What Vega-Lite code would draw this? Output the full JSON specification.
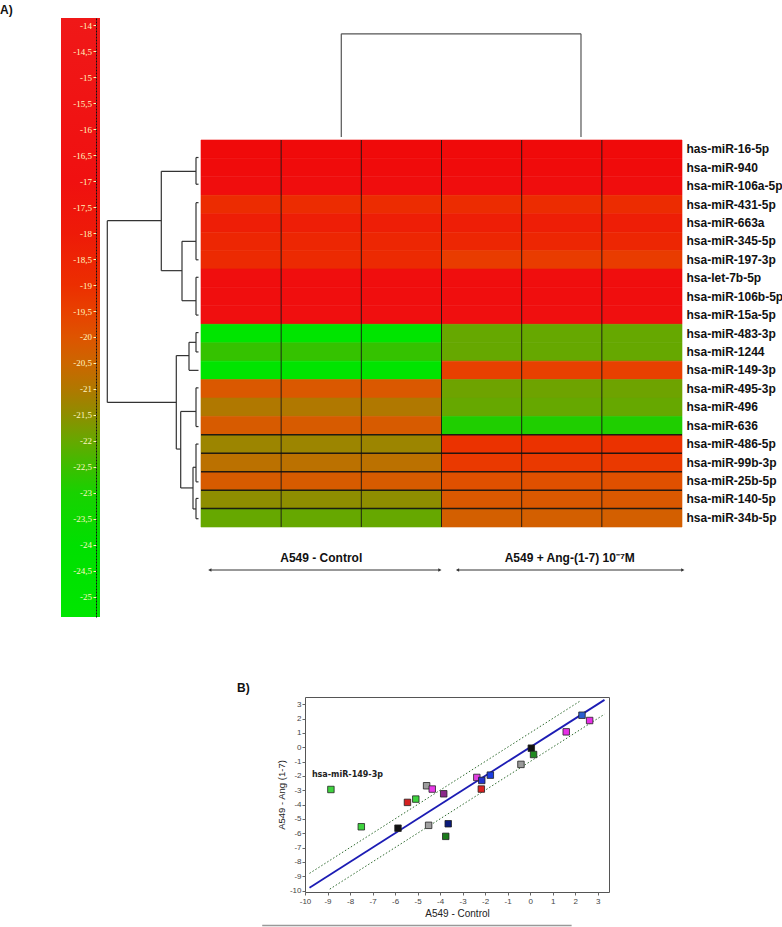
{
  "$schema": "https://vega.github.io/schema/vega-lite/v6.json",
  "background": "white",
  "padding": {"left": 0, "top": 3, "right": 0, "bottom": 0},
  "config": {
    "view": {"stroke": null},
    "locale": {"number": {"decimal": ",", "thousands": ".", "grouping": [3], "currency": ["", ""], "minus": "-"}}
  },
  "spacing": 64,
  "vconcat": [
    {
      "hconcat": [
        {
          "width": 39,
          "height": 599,
          "title": {"text": "A)", "anchor": "start", "frame": "group", "dx": -61, "offset": -7.5, "baseline": "alphabetic", "fontSize": 12, "fontWeight": "bold", "font": "Liberation Sans", "color": "#111"},
          "data": {"values": [{"lo": -25.385, "hi": -13.865}]},
          "mark": {
            "type": "rect",
            "color": {
              "gradient": "linear", "x1": 0, "y1": 0, "x2": 0, "y2": 1,
              "stops": [
                {"offset": 0, "color": "#f01818"},
                {"offset": 0.2721, "color": "#f01010"},
                {"offset": 0.3589, "color": "#ee1a08"},
                {"offset": 0.4457, "color": "#ec2e00"},
                {"offset": 0.4891, "color": "#e84000"},
                {"offset": 0.5326, "color": "#de5400"},
                {"offset": 0.576, "color": "#cc6600"},
                {"offset": 0.6194, "color": "#b07800"},
                {"offset": 0.6628, "color": "#8e8e00"},
                {"offset": 0.7062, "color": "#66a800"},
                {"offset": 0.7496, "color": "#3cbe00"},
                {"offset": 0.793, "color": "#18d200"},
                {"offset": 0.8798, "color": "#00e000"},
                {"offset": 1, "color": "#00e600"}
              ]
            }
          },
          "encoding": {
            "x": {"value": 0},
            "x2": {"value": "width"},
            "y": {
              "field": "lo", "type": "quantitative",
              "scale": {"domain": [-25.385, -13.865], "nice": false, "zero": false},
              "axis": {
                "orient": "left", "offset": -35, "title": null, "grid": false, "zindex": 2,
                "values": [-14, -14.5, -15, -15.5, -16, -16.5, -17, -17.5, -18, -18.5, -19, -19.5, -20, -20.5, -21, -21.5, -22, -22.5, -23, -23.5, -24, -24.5, -25],
                "format": ".1~f",
                "tickSize": 3, "tickColor": "#fff4b0", "tickWidth": 1,
                "domainColor": "#111", "domainWidth": 1, "domainDash": [2, 1],
                "labelColor": "#fff6c0", "labelFont": "Liberation Sans Narrow", "labelFontSize": 9,
                "labelPadding": 1.5, "labelOverlap": false
              }
            },
            "y2": {"field": "hi"}
          }
        },
        {
          "concat": [
            {"width": 92, "height": 121, "data": {"values": []}, "mark": "point"},
            {
              "width": 481,
              "height": 121,
              "data": {"values": [
                {"pos": 1.75, "pos2": 4.74, "h": 1.0, "h2": 1.0},
                {"pos": 1.75, "pos2": 1.75, "h": 1.0, "h2": 0.02},
                {"pos": 4.74, "pos2": 4.74, "h": 1.0, "h2": 0.02}
              ]},
              "mark": {"type": "rule", "color": "#555", "strokeWidth": 1.2},
              "encoding": {
                "x": {"field": "pos", "type": "quantitative", "scale": {"domain": [0, 6], "nice": false, "zero": false}, "axis": null},
                "x2": {"field": "pos2"},
                "y": {"field": "h", "type": "quantitative", "scale": {"domain": [0, 1.15], "nice": false}, "axis": null},
                "y2": {"field": "h2"}
              }
            },
            {
              "width": 92,
              "height": 387,
              "data": {"values": [
                {"d1": 9.17, "d2": 3.77, "p1": 4.38, "p2": 4.38},
                {"d1": 9.17, "d2": 2.27, "p1": 14.24, "p2": 14.24},
                {"d1": 3.77, "d2": 0.3, "p1": 1.7, "p2": 1.7},
                {"d1": 3.77, "d2": 1.7, "p1": 7.09, "p2": 7.09},
                {"d1": 1.7, "d2": 0.3, "p1": 5.5, "p2": 5.5},
                {"d1": 1.7, "d2": 0.3, "p1": 8.72, "p2": 8.72},
                {"d1": 2.27, "d2": 1.0, "p1": 11.7, "p2": 11.7},
                {"d1": 1.0, "d2": 0.3, "p1": 10.98, "p2": 10.98},
                {"d1": 1.0, "d2": 0.05, "p1": 12.5, "p2": 12.5},
                {"d1": 2.27, "d2": 1.83, "p1": 16.77, "p2": 16.77},
                {"d1": 1.83, "d2": 0.3, "p1": 14.73, "p2": 14.73},
                {"d1": 1.83, "d2": 0.6, "p1": 18.88, "p2": 18.88},
                {"d1": 0.6, "d2": 0.3, "p1": 17.76, "p2": 17.76},
                {"d1": 0.6, "d2": 0.3, "p1": 20.02, "p2": 20.02},
                {"d1": 9.17, "d2": 9.17, "p1": 4.38, "p2": 14.24},
                {"d1": 3.77, "d2": 3.77, "p1": 1.7, "p2": 7.09},
                {"d1": 1.7, "d2": 1.7, "p1": 5.5, "p2": 8.72},
                {"d1": 2.27, "d2": 2.27, "p1": 11.7, "p2": 16.77},
                {"d1": 1.0, "d2": 1.0, "p1": 10.98, "p2": 12.5},
                {"d1": 1.83, "d2": 1.83, "p1": 14.73, "p2": 18.88},
                {"d1": 0.6, "d2": 0.6, "p1": 17.76, "p2": 20.02},
                {"d1": 0.3, "d2": 0.3, "p1": 0.95, "p2": 2.4},
                {"d1": 0.3, "d2": 0.3, "p1": 3.4, "p2": 6.5},
                {"d1": 0.3, "d2": 0.3, "p1": 7.45, "p2": 9.5},
                {"d1": 0.3, "d2": 0.3, "p1": 10.45, "p2": 11.5},
                {"d1": 0.3, "d2": 0.3, "p1": 13.45, "p2": 15.55},
                {"d1": 0.3, "d2": 0.3, "p1": 16.5, "p2": 18.55},
                {"d1": 0.3, "d2": 0.3, "p1": 19.45, "p2": 20.55},
                {"d1": 0.3, "d2": 0.05, "p1": 0.95, "p2": 0.95},
                {"d1": 0.3, "d2": 0.05, "p1": 2.4, "p2": 2.4},
                {"d1": 0.3, "d2": 0.05, "p1": 3.4, "p2": 3.4},
                {"d1": 0.3, "d2": 0.05, "p1": 6.5, "p2": 6.5},
                {"d1": 0.3, "d2": 0.05, "p1": 7.45, "p2": 7.45},
                {"d1": 0.3, "d2": 0.05, "p1": 9.5, "p2": 9.5},
                {"d1": 0.3, "d2": 0.05, "p1": 10.45, "p2": 10.45},
                {"d1": 0.3, "d2": 0.05, "p1": 11.5, "p2": 11.5},
                {"d1": 0.3, "d2": 0.05, "p1": 13.45, "p2": 13.45},
                {"d1": 0.3, "d2": 0.05, "p1": 15.55, "p2": 15.55},
                {"d1": 0.3, "d2": 0.05, "p1": 16.5, "p2": 16.5},
                {"d1": 0.3, "d2": 0.05, "p1": 18.55, "p2": 18.55},
                {"d1": 0.3, "d2": 0.05, "p1": 19.45, "p2": 19.45},
                {"d1": 0.3, "d2": 0.05, "p1": 20.55, "p2": 20.55}
              ]},
              "mark": {"type": "rule", "color": "#333", "strokeWidth": 1.2},
              "encoding": {
                "x": {"field": "d1", "type": "quantitative", "scale": {"domain": [0, 9.2], "reverse": true, "nice": false, "zero": false}, "axis": null},
                "x2": {"field": "d2"},
                "y": {"field": "p1", "type": "quantitative", "scale": {"domain": [0, 21], "reverse": true, "nice": false, "zero": false}, "axis": null},
                "y2": {"field": "p2"}
              }
            },
            {
              "width": 481,
              "height": 387,
              "layer": [
                {
                  "data": {"values": [
                    {"mir": "has-miR-16-5p", "C1": -14.6, "C2": -14.6, "C3": -14.6, "A1": -14.6, "A2": -14.6, "A3": -14.6},
                    {"mir": "hsa-miR-940", "C1": -15.2, "C2": -15.2, "C3": -15.2, "A1": -15.2, "A2": -15.2, "A3": -15.2},
                    {"mir": "hsa-miR-106a-5p", "C1": -15.8, "C2": -15.8, "C3": -15.8, "A1": -15.8, "A2": -15.8, "A3": -15.8},
                    {"mir": "hsa-miR-431-5p", "C1": -18.9, "C2": -18.9, "C3": -18.9, "A1": -18.9, "A2": -18.9, "A3": -18.9},
                    {"mir": "hsa-miR-663a", "C1": -18.2, "C2": -18.2, "C3": -18.2, "A1": -18.2, "A2": -18.2, "A3": -18.2},
                    {"mir": "hsa-miR-345-5p", "C1": -18.6, "C2": -18.6, "C3": -18.6, "A1": -18.6, "A2": -18.6, "A3": -18.6},
                    {"mir": "hsa-miR-197-3p", "C1": -18.8, "C2": -18.8, "C3": -18.8, "A1": -19.4, "A2": -19.4, "A3": -19.4},
                    {"mir": "hsa-let-7b-5p", "C1": -16.0, "C2": -16.0, "C3": -16.0, "A1": -16.0, "A2": -16.0, "A3": -16.0},
                    {"mir": "hsa-miR-106b-5p", "C1": -16.2, "C2": -16.2, "C3": -16.2, "A1": -16.2, "A2": -16.2, "A3": -16.2},
                    {"mir": "hsa-miR-15a-5p", "C1": -16.5, "C2": -16.5, "C3": -16.5, "A1": -16.5, "A2": -16.5, "A3": -16.5},
                    {"mir": "hsa-miR-483-3p", "C1": -25.2, "C2": -25.2, "C3": -25.2, "A1": -22.0, "A2": -22.0, "A3": -22.0},
                    {"mir": "hsa-miR-1244", "C1": -22.6, "C2": -22.6, "C3": -22.6, "A1": -22.0, "A2": -22.0, "A3": -22.0},
                    {"mir": "hsa-miR-149-3p", "C1": -25.2, "C2": -25.2, "C3": -25.2, "A1": -19.5, "A2": -19.5, "A3": -19.5},
                    {"mir": "hsa-miR-495-3p", "C1": -20.1, "C2": -20.1, "C3": -20.1, "A1": -21.9, "A2": -21.9, "A3": -21.9},
                    {"mir": "hsa-miR-496", "C1": -21.0, "C2": -21.0, "C3": -21.0, "A1": -22.0, "A2": -22.0, "A3": -22.0},
                    {"mir": "hsa-miR-636", "C1": -20.2, "C2": -20.2, "C3": -20.2, "A1": -22.9, "A2": -22.9, "A3": -22.9},
                    {"mir": "hsa-miR-486-5p", "C1": -21.3, "C2": -21.3, "C3": -21.3, "A1": -19.1, "A2": -19.1, "A3": -19.1},
                    {"mir": "hsa-miR-99b-3p", "C1": -20.8, "C2": -20.8, "C3": -20.8, "A1": -19.3, "A2": -19.3, "A3": -19.3},
                    {"mir": "hsa-miR-25b-5p", "C1": -20.2, "C2": -20.2, "C3": -20.2, "A1": -19.9, "A2": -19.9, "A3": -19.9},
                    {"mir": "hsa-miR-140-5p", "C1": -21.5, "C2": -21.5, "C3": -21.5, "A1": -20.1, "A2": -20.1, "A3": -20.1},
                    {"mir": "hsa-miR-34b-5p", "C1": -22.0, "C2": -22.0, "C3": -22.0, "A1": -20.3, "A2": -20.3, "A3": -20.3}
                  ]},
                  "transform": [{"fold": ["C1", "C2", "C3", "A1", "A2", "A3"], "as": ["col", "value"]}],
                  "mark": {"type": "rect", "strokeWidth": 0.6},
                  "encoding": {
                    "x": {"field": "col", "type": "nominal", "scale": {"domain": ["C1", "C2", "C3", "A1", "A2", "A3"], "paddingInner": 0, "paddingOuter": 0}, "axis": null},
                    "y": {
                      "field": "mir", "type": "nominal",
                      "scale": {"domain": ["has-miR-16-5p", "hsa-miR-940", "hsa-miR-106a-5p", "hsa-miR-431-5p", "hsa-miR-663a", "hsa-miR-345-5p", "hsa-miR-197-3p", "hsa-let-7b-5p", "hsa-miR-106b-5p", "hsa-miR-15a-5p", "hsa-miR-483-3p", "hsa-miR-1244", "hsa-miR-149-3p", "hsa-miR-495-3p", "hsa-miR-496", "hsa-miR-636", "hsa-miR-486-5p", "hsa-miR-99b-3p", "hsa-miR-25b-5p", "hsa-miR-140-5p", "hsa-miR-34b-5p"], "paddingInner": 0, "paddingOuter": 0},
                      "axis": {"orient": "right", "ticks": false, "domain": false, "grid": false, "zindex": 2, "labelPadding": 4, "labelFont": "Liberation Sans", "labelFontWeight": "bold", "labelFontSize": 12, "labelColor": "#111", "title": null}
                    },
                    "color": {
                      "field": "value", "type": "quantitative",
                      "scale": {"domain": [-25.4, -24, -23, -22.5, -22, -21.5, -21, -20.5, -20, -19.5, -19, -18, -17, -13.8], "range": ["#00e600", "#00e000", "#18d200", "#3cbe00", "#66a800", "#8e8e00", "#b07800", "#cc6600", "#de5400", "#e84000", "#ec2e00", "#ee1a08", "#f01010", "#f00808"], "interpolate": "rgb"},
                      "legend": null
                    },
                    "stroke": {
                      "field": "value", "type": "quantitative",
                      "scale": {"domain": [-25.4, -24, -23, -22.5, -22, -21.5, -21, -20.5, -20, -19.5, -19, -18, -17, -13.8], "range": ["#00e600", "#00e000", "#18d200", "#3cbe00", "#66a800", "#8e8e00", "#b07800", "#cc6600", "#de5400", "#e84000", "#ec2e00", "#ee1a08", "#f01010", "#f00808"], "interpolate": "rgb"},
                      "legend": null
                    }
                  }
                },
                {
                  "data": {"values": [{"col": "C2"}, {"col": "C3"}, {"col": "A1"}, {"col": "A2"}, {"col": "A3"}]},
                  "mark": {"type": "rule", "color": "#111", "strokeWidth": 1, "opacity": 0.85},
                  "encoding": {
                    "x": {"field": "col", "type": "nominal", "bandPosition": 0}
                  }
                },
                {
                  "data": {"values": [{"mir": "hsa-miR-486-5p"}, {"mir": "hsa-miR-99b-3p"}, {"mir": "hsa-miR-25b-5p"}, {"mir": "hsa-miR-140-5p"}, {"mir": "hsa-miR-34b-5p"}]},
                  "mark": {"type": "rule", "color": "#111", "strokeWidth": 1.5, "opacity": 0.9},
                  "encoding": {
                    "y": {"field": "mir", "type": "nominal", "bandPosition": 0}
                  }
                }
              ]
            },
            {"width": 92, "height": 84, "data": {"values": []}, "mark": "point"},
            {
              "width": 481,
              "height": 84,
              "layer": [
                {
                  "data": {"values": [{"group": "A549 - Control", "center": 1.5}, {"group": "A549 + Ang-(1-7) 10⁻⁷M", "center": 4.6}]},
                  "mark": {"type": "text", "dy": -12, "font": "Liberation Sans", "fontWeight": "bold", "fontSize": 12, "color": "#111", "align": "center", "baseline": "middle"},
                  "encoding": {
                    "x": {"field": "center", "type": "quantitative", "scale": {"domain": [0, 6], "nice": false, "zero": false}, "axis": null},
                    "text": {"field": "group"}
                  }
                },
                {
                  "data": {"values": [{"start": 0.11, "end": 2.98}, {"start": 3.2, "end": 6.01}]},
                  "layer": [
                    {
                      "mark": {"type": "rule", "color": "#333", "strokeWidth": 1},
                      "encoding": {
                        "x": {"field": "start", "type": "quantitative", "scale": {"domain": [0, 6], "nice": false, "zero": false}, "axis": null},
                        "x2": {"field": "end"}
                      }
                    },
                    {
                      "mark": {"type": "point", "shape": "triangle-left", "filled": true, "size": 14, "color": "#333", "opacity": 1},
                      "encoding": {
                        "x": {"field": "start", "type": "quantitative", "scale": {"domain": [0, 6], "nice": false, "zero": false}, "axis": null}
                      }
                    },
                    {
                      "mark": {"type": "point", "shape": "triangle-right", "filled": true, "size": 14, "color": "#333", "opacity": 1},
                      "encoding": {
                        "x": {"field": "end", "type": "quantitative", "scale": {"domain": [0, 6], "nice": false, "zero": false}, "axis": null}
                      }
                    }
                  ]
                }
              ]
            }
          ],
          "columns": 2,
          "spacing": 0,
          "align": "each"
        }
      ],
      "spacing": 6
    },
    {
      "hconcat": [
        {"width": 175, "height": 195, "data": {"values": []}, "mark": "point"},
        {
          "width": 304,
          "height": 195,
          "view": {"stroke": "#555", "strokeWidth": 1},
          "title": {"text": "B)", "anchor": "start", "frame": "group", "dx": -68, "offset": -6.5, "baseline": "alphabetic", "fontSize": 12, "fontWeight": "bold", "font": "Liberation Sans", "color": "#111"},
          "layer": [
            {
              "data": {"values": [
                {"kind": "fit", "x1": -9.8, "y1": -9.8, "x2": 3.3, "y2": 3.3},
                {"kind": "band", "x1": -9.8, "y1": -8.8, "x2": 2.25, "y2": 3.25},
                {"kind": "band", "x1": -8.9, "y1": -9.9, "x2": 3.3, "y2": 2.3}
              ]},
              "layer": [
                {
                  "transform": [{"filter": "datum.kind == 'band'"}],
                  "mark": {"type": "rule", "color": "#2f6b2f", "strokeWidth": 1, "strokeDash": [1.5, 2]},
                  "encoding": {
                    "x": {"field": "x1", "type": "quantitative", "scale": {"domain": [-10, 3.5], "nice": false, "zero": false},
                      "axis": {"grid": false, "zindex": 2, "values": [-10, -9, -8, -7, -6, -5, -4, -3, -2, -1, 0, 1, 2, 3], "format": "d", "labelOverlap": false, "title": "A549 - Control", "titleFont": "Liberation Sans", "titleFontSize": 10, "titleFontWeight": "normal", "titleColor": "#222", "titlePadding": 3, "labelFont": "Liberation Sans", "labelFontSize": 8, "labelColor": "#444", "tickSize": 3, "tickColor": "#666", "labelPadding": 2, "domain": false, "labelFlush": false}},
                    "y": {"field": "y1", "type": "quantitative", "scale": {"domain": [-10.1, 3.5], "nice": false, "zero": false},
                      "axis": {"grid": false, "zindex": 2, "values": [-10, -9, -8, -7, -6, -5, -4, -3, -2, -1, 0, 1, 2, 3], "format": "d", "labelOverlap": false, "title": "A549 - Ang (1-7)", "titleFont": "Liberation Sans", "titleFontSize": 9.5, "titleFontWeight": "normal", "titleColor": "#222", "titlePadding": 3, "labelFont": "Liberation Sans", "labelFontSize": 8, "labelColor": "#444", "tickSize": 3, "tickColor": "#666", "labelPadding": 1, "domain": false, "labelFlush": false}},
                    "x2": {"field": "x2"},
                    "y2": {"field": "y2"}
                  }
                },
                {
                  "transform": [{"filter": "datum.kind == 'fit'"}],
                  "mark": {"type": "rule", "color": "#1c1cb4", "strokeWidth": 1.8},
                  "encoding": {
                    "x": {"field": "x1", "type": "quantitative", "scale": {"domain": [-10, 3.5], "nice": false, "zero": false},
                      "axis": {"grid": false, "zindex": 2, "values": [-10, -9, -8, -7, -6, -5, -4, -3, -2, -1, 0, 1, 2, 3], "format": "d", "labelOverlap": false, "title": "A549 - Control", "titleFont": "Liberation Sans", "titleFontSize": 10, "titleFontWeight": "normal", "titleColor": "#222", "titlePadding": 3, "labelFont": "Liberation Sans", "labelFontSize": 8, "labelColor": "#444", "tickSize": 3, "tickColor": "#666", "labelPadding": 2, "domain": false, "labelFlush": false}},
                    "y": {"field": "y1", "type": "quantitative", "scale": {"domain": [-10.1, 3.5], "nice": false, "zero": false},
                      "axis": {"grid": false, "zindex": 2, "values": [-10, -9, -8, -7, -6, -5, -4, -3, -2, -1, 0, 1, 2, 3], "format": "d", "labelOverlap": false, "title": "A549 - Ang (1-7)", "titleFont": "Liberation Sans", "titleFontSize": 9.5, "titleFontWeight": "normal", "titleColor": "#222", "titlePadding": 3, "labelFont": "Liberation Sans", "labelFontSize": 8, "labelColor": "#444", "tickSize": 3, "tickColor": "#666", "labelPadding": 1, "domain": false, "labelFlush": false}},
                    "x2": {"field": "x2"},
                    "y2": {"field": "y2"}
                  }
                }
              ]
            },
            {
              "data": {"values": [
                {"mir": "hsa-miR-149-3p", "ctrl": -8.85, "ang": -2.95},
                {"mir": "hsa-miR-483-3p", "ctrl": -7.5, "ang": -5.55},
                {"mir": "hsa-miR-25b-5p", "ctrl": -5.87, "ang": -5.65},
                {"mir": "hsa-miR-486-5p", "ctrl": -5.45, "ang": -3.85},
                {"mir": "hsa-miR-34b-5p", "ctrl": -5.08, "ang": -3.62},
                {"mir": "hsa-miR-99b-3p", "ctrl": -4.6, "ang": -2.69},
                {"mir": "hsa-miR-140-5p", "ctrl": -4.35, "ang": -2.92},
                {"mir": "hsa-miR-496", "ctrl": -4.51, "ang": -5.45},
                {"mir": "hsa-miR-1244", "ctrl": -3.84, "ang": -3.25},
                {"mir": "hsa-miR-495-3p", "ctrl": -3.64, "ang": -5.34},
                {"mir": "hsa-miR-636", "ctrl": -3.75, "ang": -6.22},
                {"mir": "hsa-miR-197-3p", "ctrl": -2.37, "ang": -2.11},
                {"mir": "hsa-miR-431-5p", "ctrl": -2.15, "ang": -2.32},
                {"mir": "hsa-miR-663a", "ctrl": -1.77, "ang": -1.95},
                {"mir": "hsa-miR-345-5p", "ctrl": -2.17, "ang": -2.92},
                {"mir": "hsa-miR-106b-5p", "ctrl": 0.05, "ang": -0.07},
                {"mir": "hsa-miR-15a-5p", "ctrl": 0.15, "ang": -0.51},
                {"mir": "hsa-let-7b-5p", "ctrl": -0.41, "ang": -1.2},
                {"mir": "hsa-miR-940", "ctrl": 1.6, "ang": 1.07},
                {"mir": "hsa-miR-106a-5p", "ctrl": 2.3, "ang": 2.23},
                {"mir": "has-miR-16-5p", "ctrl": 2.64, "ang": 1.86}
              ]},
              "layer": [
                {
                  "mark": {"type": "square", "size": 42, "filled": true, "opacity": 1, "stroke": "#222", "strokeWidth": 0.8},
                  "encoding": {
                    "x": {"field": "ctrl", "type": "quantitative", "scale": {"domain": [-10, 3.5], "nice": false, "zero": false},
                      "axis": {"grid": false, "zindex": 2, "values": [-10, -9, -8, -7, -6, -5, -4, -3, -2, -1, 0, 1, 2, 3], "format": "d", "labelOverlap": false, "title": "A549 - Control", "titleFont": "Liberation Sans", "titleFontSize": 10, "titleFontWeight": "normal", "titleColor": "#222", "titlePadding": 3, "labelFont": "Liberation Sans", "labelFontSize": 8, "labelColor": "#444", "tickSize": 3, "tickColor": "#666", "labelPadding": 2, "domain": false, "labelFlush": false}},
                    "y": {"field": "ang", "type": "quantitative", "scale": {"domain": [-10.1, 3.5], "nice": false, "zero": false},
                      "axis": {"grid": false, "zindex": 2, "values": [-10, -9, -8, -7, -6, -5, -4, -3, -2, -1, 0, 1, 2, 3], "format": "d", "labelOverlap": false, "title": "A549 - Ang (1-7)", "titleFont": "Liberation Sans", "titleFontSize": 9.5, "titleFontWeight": "normal", "titleColor": "#222", "titlePadding": 3, "labelFont": "Liberation Sans", "labelFontSize": 8, "labelColor": "#444", "tickSize": 3, "tickColor": "#666", "labelPadding": 1, "domain": false, "labelFlush": false}},
                    "color": {
                      "field": "mir", "type": "nominal", "legend": null,
                      "scale": {
                        "domain": ["hsa-miR-149-3p", "hsa-miR-483-3p", "hsa-miR-25b-5p", "hsa-miR-486-5p", "hsa-miR-34b-5p", "hsa-miR-99b-3p", "hsa-miR-140-5p", "hsa-miR-496", "hsa-miR-1244", "hsa-miR-495-3p", "hsa-miR-636", "hsa-miR-197-3p", "hsa-miR-431-5p", "hsa-miR-663a", "hsa-miR-345-5p", "hsa-miR-106b-5p", "hsa-miR-15a-5p", "hsa-let-7b-5p", "hsa-miR-940", "hsa-miR-106a-5p", "has-miR-16-5p"],
                        "range": ["#3ed33e", "#3ed33e", "#111111", "#d42020", "#3ed33e", "#9d9d9d", "#e83ae8", "#a0a0a0", "#8a2a8a", "#0a1a7a", "#1a7a1a", "#e040e0", "#2233cc", "#1a3ce0", "#dd2020", "#111111", "#1f8a1f", "#9a9a9a", "#e62ee6", "#2a5fcf", "#e62ee6"]
                      }
                    }
                  }
                },
                {
                  "transform": [{"filter": "datum.mir == 'hsa-miR-149-3p'"}],
                  "mark": {"type": "text", "dx": -19, "dy": -14, "align": "left", "baseline": "middle", "font": "DejaVu Sans", "fontSize": 8, "fontWeight": "bold", "color": "#222"},
                  "encoding": {
                    "x": {"field": "ctrl", "type": "quantitative", "scale": {"domain": [-10, 3.5], "nice": false, "zero": false},
                      "axis": {"grid": false, "zindex": 2, "values": [-10, -9, -8, -7, -6, -5, -4, -3, -2, -1, 0, 1, 2, 3], "format": "d", "labelOverlap": false, "title": "A549 - Control", "titleFont": "Liberation Sans", "titleFontSize": 10, "titleFontWeight": "normal", "titleColor": "#222", "titlePadding": 3, "labelFont": "Liberation Sans", "labelFontSize": 8, "labelColor": "#444", "tickSize": 3, "tickColor": "#666", "labelPadding": 2, "domain": false, "labelFlush": false}},
                    "y": {"field": "ang", "type": "quantitative", "scale": {"domain": [-10.1, 3.5], "nice": false, "zero": false},
                      "axis": {"grid": false, "zindex": 2, "values": [-10, -9, -8, -7, -6, -5, -4, -3, -2, -1, 0, 1, 2, 3], "format": "d", "labelOverlap": false, "title": "A549 - Ang (1-7)", "titleFont": "Liberation Sans", "titleFontSize": 9.5, "titleFontWeight": "normal", "titleColor": "#222", "titlePadding": 3, "labelFont": "Liberation Sans", "labelFontSize": 8, "labelColor": "#444", "tickSize": 3, "tickColor": "#666", "labelPadding": 1, "domain": false, "labelFlush": false}},
                    "text": {"field": "mir"}
                  }
                }
              ]
            },
            {
              "data": {"values": [{"from": -11.9, "to": 1.84, "at": -12.44}]},
              "mark": {"type": "rule", "color": "#999", "strokeWidth": 1.5},
              "encoding": {
                "x": {"field": "from", "type": "quantitative", "scale": {"domain": [-10, 3.5], "nice": false, "zero": false},
                  "axis": {"grid": false, "zindex": 2, "values": [-10, -9, -8, -7, -6, -5, -4, -3, -2, -1, 0, 1, 2, 3], "format": "d", "labelOverlap": false, "title": "A549 - Control", "titleFont": "Liberation Sans", "titleFontSize": 10, "titleFontWeight": "normal", "titleColor": "#222", "titlePadding": 3, "labelFont": "Liberation Sans", "labelFontSize": 8, "labelColor": "#444", "tickSize": 3, "tickColor": "#666", "labelPadding": 2, "domain": false, "labelFlush": false}},
                "x2": {"field": "to"},
                "y": {"field": "at", "type": "quantitative", "scale": {"domain": [-10.1, 3.5], "nice": false, "zero": false},
                  "axis": {"grid": false, "zindex": 2, "values": [-10, -9, -8, -7, -6, -5, -4, -3, -2, -1, 0, 1, 2, 3], "format": "d", "labelOverlap": false, "title": "A549 - Ang (1-7)", "titleFont": "Liberation Sans", "titleFontSize": 9.5, "titleFontWeight": "normal", "titleColor": "#222", "titlePadding": 3, "labelFont": "Liberation Sans", "labelFontSize": 8, "labelColor": "#444", "tickSize": 3, "tickColor": "#666", "labelPadding": 1, "domain": false, "labelFlush": false}}
              }
            }
          ]
        }
      ],
      "spacing": 0
    }
  ]
}
